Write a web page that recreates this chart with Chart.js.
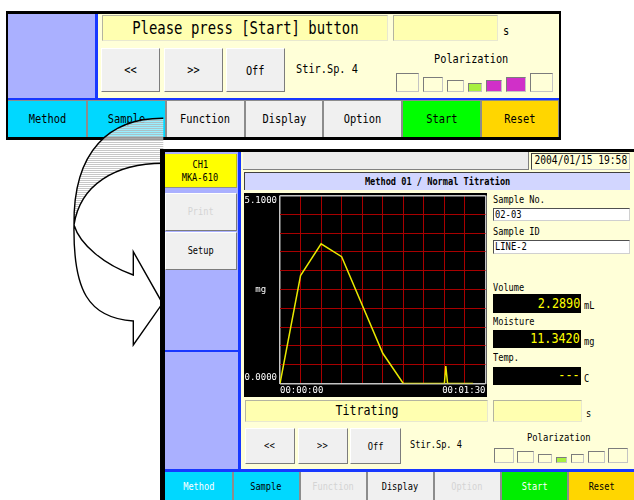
<!DOCTYPE html>
<html>
<head>
<meta charset="utf-8">
<script src="https://cdn.jsdelivr.net/npm/chart.js@4.4.1/dist/chart.umd.min.js"></script>
<style>
  html, body { margin: 0; padding: 0; background: #fff; }
  body { width: 634px; height: 500px; position: relative; overflow: hidden; font-family: "DejaVu Sans Mono", monospace; color: #000; }
  .layer { position: absolute; left: 0; top: 0; width: 634px; height: 500px; }
  .r { position: absolute; box-sizing: border-box; display: flex; align-items: center; justify-content: center; white-space: nowrap; }
  .t { display: inline-block; transform: scaleX(0.83); line-height: 1.2; }
  .lbl { position: absolute; white-space: nowrap; transform: scaleX(0.83); transform-origin: 0 50%; }
  .btn { background: #f0f0f0; border: 1px solid; border-color: #ffffff #7c7c7c #7c7c7c #ffffff; }
  .msg { background: #ffffb0; border: 1px solid; border-color: #b4b4a0 #e8e8d0 #e8e8d0 #b4b4a0; }
  .pol { border: 1px solid; border-color: #7c7c7c #c4c4c4 #c4c4c4 #7c7c7c; }
  .inp { background: #fff; border: 1px solid; border-color: #505050 #d0d0d0 #d0d0d0 #505050; justify-content: flex-start; padding-left: 1px; }
  .inp .t { transform-origin: 0 50%; }
  .val { background: #000; justify-content: flex-end; padding-right: 1px; }
  .val .t { transform-origin: 100% 50%; color: #ffff00; }
  #plot { position: absolute; left: 244px; top: 193px; width: 243px; height: 204px; background: #000; }
</style>
</head>
<body>
<div id="w1" class="layer"></div>
<svg id="arrow" class="layer" width="634" height="500" viewBox="0 0 634 500">
  <defs>
    <pattern id="hatch" width="4" height="2" patternUnits="userSpaceOnUse">
      <rect width="4" height="2" fill="#ffffff" fill-opacity="0.6"/>
      <rect width="4" height="1" fill="#b0b0b0" fill-opacity="0.7"/>
    </pattern>
  </defs>
  <!-- back face of the ribbon (hatched) -->
  <path d="M163.3,118.3 C110,118 73,150 74,225 C80,185 115,163.3 163.3,163.3 Z" fill="url(#hatch)" stroke="none"/>
  <path d="M163.3,118.3 C110,118 73,150 74,225 M74,225 C80,185 115,163.3 163.3,163.3" fill="none" stroke="#000" stroke-width="1.4"/>
  <!-- front face with head -->
  <path d="M74,225 C73,290 88,318 133.3,321 L133.3,345 L162.5,303.3 L133.3,251.7 L133.3,275 C105,265 80,245 74,225 Z" fill="#fff" stroke="#000" stroke-width="1.4"/>
</svg>
<div id="w2" class="layer">
</div>

<script>
// ---- chart data ----
const TIME_S      = [0, 9, 18, 27, 45, 54, 72, 72.6, 73.4, 84.5];
const MOISTURE_MG = [0, 2.93, 3.79, 3.44, 0.82, 0, 0, 0.47, 0, 0];

const X_TICKS = [0, 9, 18, 27, 36, 45, 54, 63, 72, 81, 90];
const X_TICK_LABELS = ['00:00:00', '', '', '', '', '', '', '', '', '', '00:01:30'];
const Y_TICKS = [0, 0.51, 1.02, 1.53, 2.04, 2.55, 3.06, 3.57, 4.08, 4.59, 5.1];
const Y_TICK_LABELS = ['0.0000', '', '', '', '', 'mg', '', '', '', '', '5.1000'];

// ---- colours ----
const LAV = '#aab0ff';
const BLUE = '#1838ff';
const CREAM = '#ffffd8';
const CYAN = '#00d8ff';
const GRAY = '#f0f0f0';
const GOLD = '#ffd600';
const DIS = '#d4d4d4';

const W1 = document.getElementById('w1');
const W2 = document.getElementById('w2');

function rect(parent, x1, y1, x2, y2, cls, style) {
    const d = document.createElement('div');
    d.className = 'r ' + (cls || '');
    d.style.left = x1 + 'px';
    d.style.top = y1 + 'px';
    d.style.width = (x2 - x1) + 'px';
    d.style.height = (y2 - y1) + 'px';
    if (style) Object.assign(d.style, style);
    parent.appendChild(d);
    return d;
}

function text(el, str, size, color, bold) {
    const s = document.createElement('span');
    s.className = 't';
    s.textContent = str;
    s.style.fontSize = size + 'px';
    if (color) s.style.color = color;
    if (bold) s.style.fontWeight = 'bold';
    el.appendChild(s);
    return s;
}

function label(parent, x, y, str, size, color) {
    const d = document.createElement('div');
    d.className = 'lbl';
    d.textContent = str;
    d.style.left = x + 'px';
    d.style.top = (y - size * 0.6) + 'px';
    d.style.fontSize = size + 'px';
    d.style.lineHeight = (size * 1.2) + 'px';
    if (color) d.style.color = color;
    parent.appendChild(d);
    return d;
}

function tabs(parent, x0, step, y1, y2, list, size) {
    list.forEach((t, i) => {
        const a = x0 + i * step + (i ? 1.5 : 0);
        const b = x0 + (i + 1) * step - 0.5;
        text(rect(parent, a, y1, b, y2, '', { background: t[1] }), t[0], size, t[2]);
    });
}

// ================= window 1 (top) =================
rect(W1, 6, 11, 561, 139.5, '', { background: '#000' });
rect(W1, 8, 13.5, 95, 97.5, '', { background: LAV });
rect(W1, 95, 13.5, 97.5, 97.5, '', { background: BLUE });
rect(W1, 97.5, 13.5, 559, 97.5, '', { background: CREAM });
rect(W1, 8, 97.5, 559, 100, '', { background: BLUE });
rect(W1, 8, 100, 559, 137, '', { background: '#8c8c8c' });

text(rect(W1, 102, 15, 388, 41, 'msg'), 'Please press [Start] button', 16.8);
rect(W1, 393, 15, 498, 41, 'msg');
label(W1, 502.5, 31.5, 's', 12.4);

text(rect(W1, 101, 48, 160, 92, 'btn'), '<<', 12.4);
text(rect(W1, 164, 48, 223, 92, 'btn'), '>>', 12.4);
text(rect(W1, 226, 48, 285, 92, 'btn', { paddingTop: '3px' }), 'Off', 12.4);
label(W1, 296, 69.5, 'Stir.Sp. 4', 12.4);
label(W1, 434, 59.5, 'Polarization', 12.4);

[[395.7, 73.3, 419, CREAM], [423, 76.7, 443, CREAM], [447.3, 80, 464, CREAM],
 [468, 83.3, 481.7, '#a8f040'], [485.7, 80, 502, '#d030c8'], [505.7, 76.7, 525.7, '#d030c8'],
 [530, 73.3, 553.3, CREAM]].forEach(b => rect(W1, b[0], b[1], b[2], 91.7, 'pol', { background: b[3] }));

tabs(W1, 8, 78.71, 100.5, 137, [
    ['Method', CYAN], ['Sample', CYAN], ['Function', GRAY], ['Display', GRAY],
    ['Option', GRAY], ['Start', '#00ff00'], ['Reset', GOLD]
], 12.5);

// ================= window 2 (front) =================
rect(W2, 160, 148.5, 640, 500, '', { background: '#000' });
rect(W2, 165, 152, 238, 469, '', { background: LAV });
rect(W2, 238, 152, 241, 469, '', { background: BLUE });
rect(W2, 241, 152, 634, 469, '', { background: CREAM });
rect(W2, 165, 349.5, 238, 352, '', { background: BLUE });
rect(W2, 165, 469, 634, 471.8, '', { background: BLUE });
rect(W2, 165, 471.8, 634, 500, '', { background: '#8c8c8c' });

const ch = rect(W2, 165, 154, 236.5, 188, '', { background: '#ffff00', flexDirection: 'column', borderBottom: '1px solid #909090', borderRight: '1px solid #c0c000' });
text(ch, 'CH1', 10.4);
text(ch, 'MKA-610', 10.4);
text(rect(W2, 165, 192.5, 236.5, 230.5, 'btn'), 'Print', 10.4, DIS);
text(rect(W2, 165, 231.5, 236.5, 269.5, 'btn'), 'Setup', 10.4);

rect(W2, 243, 152, 529, 170, '', { background: '#ececec', borderRight: '1px solid #808080', borderBottom: '1px solid #808080' });
text(rect(W2, 531, 152.5, 630, 170, '', { background: CREAM, borderLeft: '1px solid #404040', borderTop: '1px solid #404040', borderRight: '1px solid #c8c8c8', borderBottom: '1px solid #c8c8c8' }), '2004/01/15 19:58', 11.6);
text(rect(W2, 244, 172, 630, 190, '', { background: '#d2d6ff', borderLeft: '1px solid #404040', borderTop: '1px solid #404040' }), 'Method 01 / Normal Titration', 10.4, null, true);

// right hand readouts
label(W2, 493, 199.3, 'Sample No.', 10.4);
text(rect(W2, 493, 207.5, 630, 220.5, 'inp'), '02-03', 10.6);
label(W2, 493, 231.5, 'Sample ID', 10.4);
text(rect(W2, 493, 240, 630, 253.5, 'inp'), 'LINE-2', 10.6);
label(W2, 493, 287, 'Volume', 10.4);
text(rect(W2, 493, 294, 581, 312.5, 'val'), '2.2890', 14.2);
label(W2, 584, 305, 'mL', 10.4);
label(W2, 493, 321.5, 'Moisture', 10.4);
text(rect(W2, 493, 330, 581, 348, 'val'), '11.3420', 14.2);
label(W2, 584, 341.5, 'mg', 10.4);
label(W2, 493, 357.3, 'Temp.', 10.4);
text(rect(W2, 493, 366.5, 581, 384.5, 'val'), '---', 14.2);
label(W2, 584, 378, 'C', 10.4);

// status line and controls
text(rect(W2, 245, 400, 488, 421.5, 'msg'), 'Titrating', 14);
rect(W2, 493, 400, 581.5, 421.5, 'msg');
label(W2, 585.5, 413.3, 's', 10.4);
text(rect(W2, 244.5, 427.5, 295, 464, 'btn'), '<<', 10.6);
text(rect(W2, 297.5, 427.5, 347.5, 464, 'btn'), '>>', 10.6);
text(rect(W2, 350, 427.5, 400.5, 464, 'btn', { paddingTop: '2px' }), 'Off', 10.6);
label(W2, 409.5, 444, 'Stir.Sp. 4', 10.4);
label(W2, 527, 437, 'Polarization', 10.6);

[[494, 447.7, 514, CREAM], [517.3, 451, 534.3, CREAM], [538.3, 453.7, 552.3, CREAM],
 [556, 456.7, 567.3, '#a8f040'], [570.7, 453.7, 584, CREAM], [587.7, 451, 605, CREAM],
 [608.3, 447.7, 628.3, CREAM]].forEach(b => rect(W2, b[0], b[1], b[2], 463.3, 'pol', { background: b[3] }));

tabs(W2, 165, 67.05, 472.3, 500, [
    ['Method', CYAN, '#fff'], ['Sample', CYAN], ['Function', GRAY, DIS], ['Display', GRAY],
    ['Option', GRAY, DIS], ['Start', '#00ee00', '#fff'], ['Reset', GOLD]
], 10.4);

// ================= titration chart =================
const plotBox = document.createElement('div');
plotBox.id = 'plot';
plotBox.innerHTML = '<canvas id="curve"></canvas>';
W2.appendChild(plotBox);

const GRID_RED = '#a80000';
const FRAME = '#c4c4c4';
const TICK_FONT = { family: 'DejaVu Sans Mono', size: 9 };

function edgeColor(ctx, n) {
    return (ctx.index === 0 || ctx.index === n - 1) ? FRAME : GRID_RED;
}
function edgeWidth(ctx, n) {
    return (ctx.index === 0 || ctx.index === n - 1) ? 1.5 : 1;
}
function noPad(s) {
    s.paddingTop = 0; s.paddingBottom = 0; s.paddingLeft = 0; s.paddingRight = 0;
}

new Chart(document.getElementById('curve'), {
    type: 'line',
    data: {
        datasets: [{
            data: TIME_S.map((t, i) => ({ x: t, y: MOISTURE_MG[i] })),
            borderColor: '#e8e800',
            borderWidth: 1.5,
            pointRadius: 0,
            tension: 0,
            fill: false
        }]
    },
    options: {
        responsive: true,
        maintainAspectRatio: false,
        animation: false,
        layout: { padding: { top: 2.5, right: 1.5, left: 0, bottom: 0 } },
        plugins: { legend: { display: false }, tooltip: { enabled: false } },
        scales: {
            x: {
                type: 'linear',
                min: 0,
                max: 90,
                afterBuildTicks: s => { s.ticks = X_TICKS.map(v => ({ value: v })); },
                afterFit: s => { s.height = 13.5; noPad(s); },
                border: { display: false },
                grid: {
                    drawTicks: false,
                    color: c => edgeColor(c, X_TICKS.length),
                    lineWidth: c => edgeWidth(c, X_TICKS.length)
                },
                ticks: {
                    color: '#fff',
                    font: TICK_FONT,
                    padding: 2,
                    align: 'inner',
                    maxRotation: 0,
                    autoSkip: false,
                    callback: (v, i) => X_TICK_LABELS[i]
                }
            },
            y: {
                min: 0,
                max: 5.1,
                afterBuildTicks: s => { s.ticks = Y_TICKS.map(v => ({ value: v })); },
                afterFit: s => { s.width = 36; noPad(s); },
                border: { display: false },
                grid: {
                    drawTicks: false,
                    color: c => edgeColor(c, Y_TICKS.length),
                    lineWidth: c => edgeWidth(c, Y_TICKS.length)
                },
                ticks: {
                    color: '#fff',
                    font: TICK_FONT,
                    padding: 3,
                    crossAlign: 'center',
                    autoSkip: false,
                    // first and last labels sit inside the frame, like the instrument screen
                    callback: (v, i) => {
                        const t = Y_TICK_LABELS[i];
                        if (i === 0) return [t, ''];
                        if (i === Y_TICK_LABELS.length - 1) return ['', t];
                        return t;
                    }
                }
            }
        }
    }
});
</script>
</body>
</html>
